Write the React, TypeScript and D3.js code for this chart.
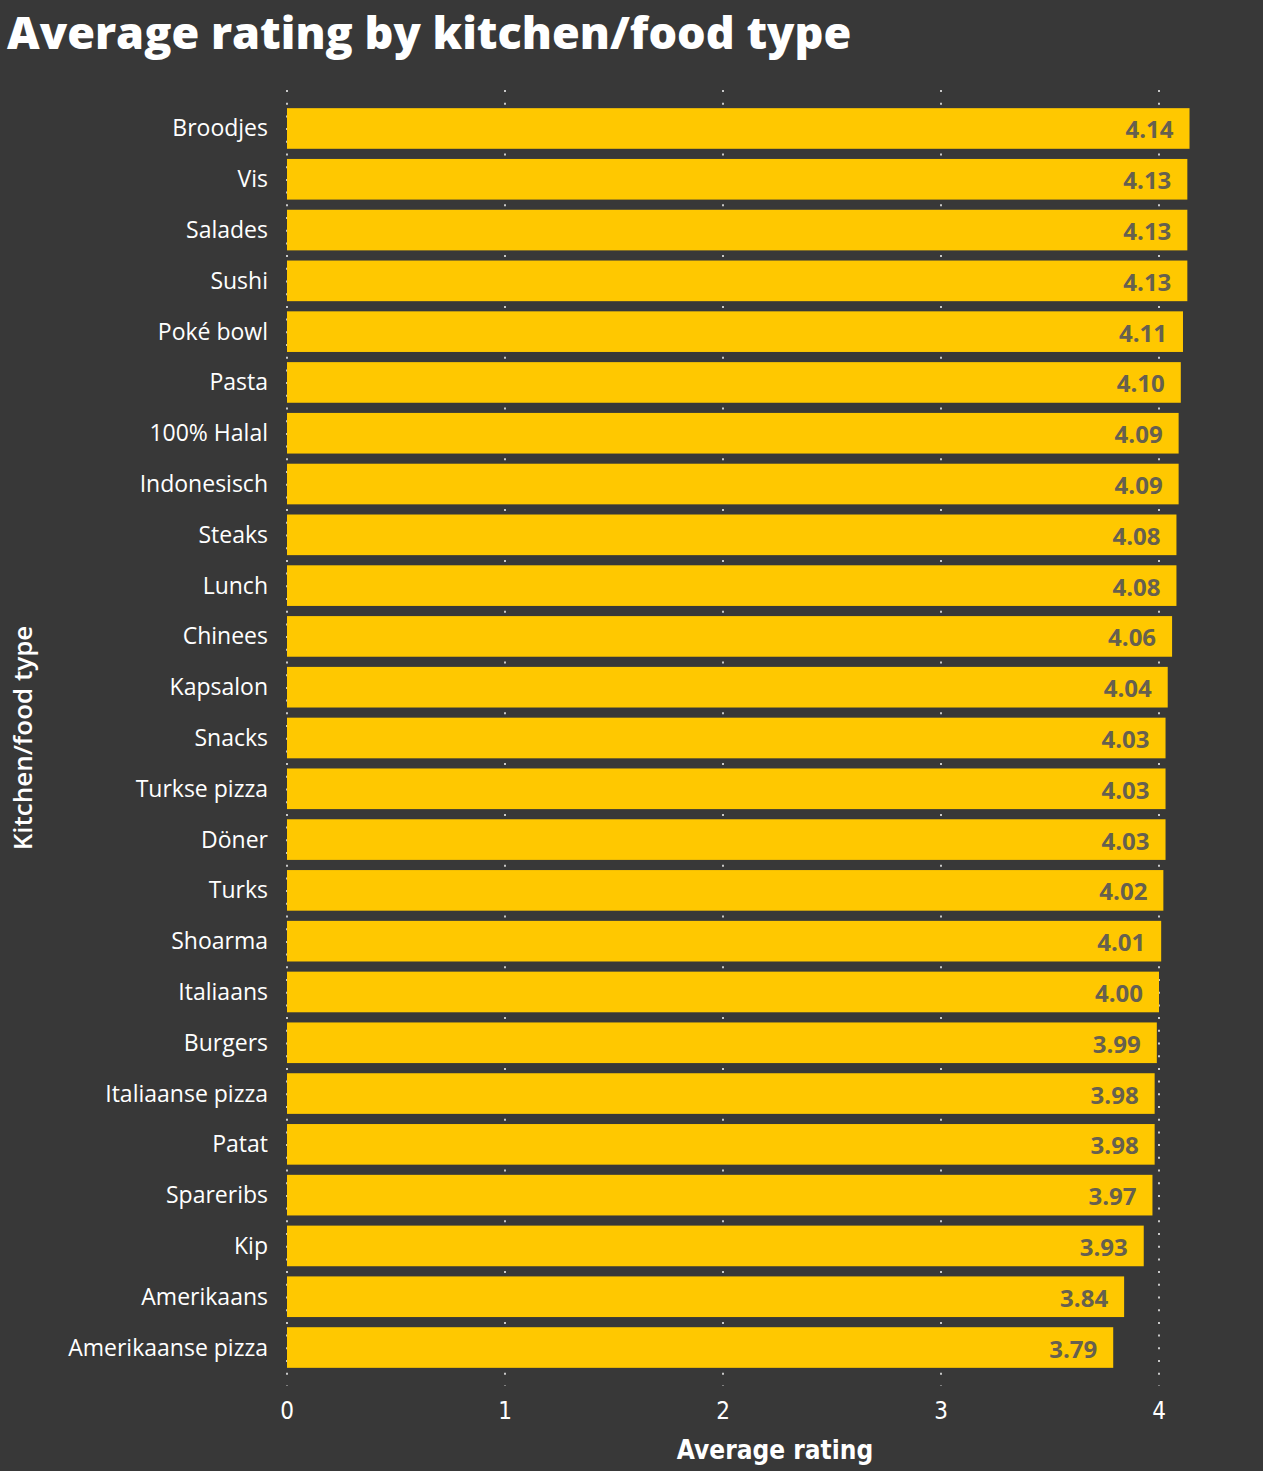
import React from "react";
import { scaleBand, scaleLinear } from "d3";

const categories = [
  "Broodjes", "Vis", "Salades", "Sushi", "Poké bowl", "Pasta", "100% Halal",
  "Indonesisch", "Steaks", "Lunch", "Chinees", "Kapsalon", "Snacks",
  "Turkse pizza", "Döner", "Turks", "Shoarma", "Italiaans", "Burgers",
  "Italiaanse pizza", "Patat", "Spareribs", "Kip", "Amerikaans", "Amerikaanse pizza",
];
const ratings = [
  4.14, 4.13, 4.13, 4.13, 4.11, 4.1, 4.09, 4.09, 4.08, 4.08, 4.06, 4.04, 4.03,
  4.03, 4.03, 4.02, 4.01, 4.0, 3.99, 3.98, 3.98, 3.97, 3.93, 3.84, 3.79,
];
const xTicks = [0, 1, 2, 3, 4];

const W = 1263;
const H = 1471;
const BG = "#383838";
const BAR = "#FFC800";
const labelFont = "'Open Sans', 'Noto Sans', sans-serif";
const axisFont = "'Liberation Sans Narrow', 'DejaVu Sans Condensed', 'Roboto', sans-serif";

export default function App() {
  const x = scaleLinear().domain([0, 4]).range([287, 1159]);
  const y = scaleBand<string>().domain(categories).range([98, 1378]).padding(0.2);

  const gridTop = 90;
  const gridBottom = 1386;

  return (
    <svg width={W} height={H} style={{ display: "block", position: "absolute", left: 0, top: 0, background: BG }}>
      <rect width={W} height={H} fill={BG} />
      <text x={7} y={49} fill="#fff" fontFamily={labelFont} fontWeight={800} fontSize={45}>
        Average rating by kitchen/food type
      </text>

      {/* gridlines */}
      {xTicks.map((t) => (
        <line key={"g" + t} x1={x(t)} x2={x(t)} y1={gridTop} y2={gridBottom}
          stroke="#c8c8c8" strokeWidth={2} strokeDasharray="2 10.7" />
      ))}

      {/* bars */}
      {categories.map((c, i) => (
        <g key={c}>
          <rect x={x(0)} y={y(c)} width={x(ratings[i]) - x(0)} height={y.bandwidth()} fill={BAR} />
          <text x={x(ratings[i]) - 16} y={(y(c) as number) + y.bandwidth() / 2 + 10}
            textAnchor="end" fill="#66604f" fontFamily={labelFont} fontWeight={700} fontSize={24}>
            {ratings[i].toFixed(2)}
          </text>
          <text x={268} y={(y(c) as number) + y.bandwidth() / 2 + 8}
            textAnchor="end" fill="#fff" fontFamily={labelFont} fontSize={23}>
            {c}
          </text>
        </g>
      ))}

      {/* x tick labels */}
      {xTicks.map((t) => (
        <text key={"t" + t} x={x(t)} y={1419} textAnchor="middle" fill="#fff"
          fontFamily={axisFont} fontSize={24}>
          {t}
        </text>
      ))}

      <text x={775} y={1459} textAnchor="middle" fill="#fff" fontFamily={axisFont}
        fontWeight={600} fontSize={26}>
        Average rating
      </text>

      <text transform="translate(32,738) rotate(-90)" textAnchor="middle" fill="#fff"
        fontFamily={labelFont} fontWeight={600} fontSize={26}>
        Kitchen/food type
      </text>
    </svg>
  );
}
